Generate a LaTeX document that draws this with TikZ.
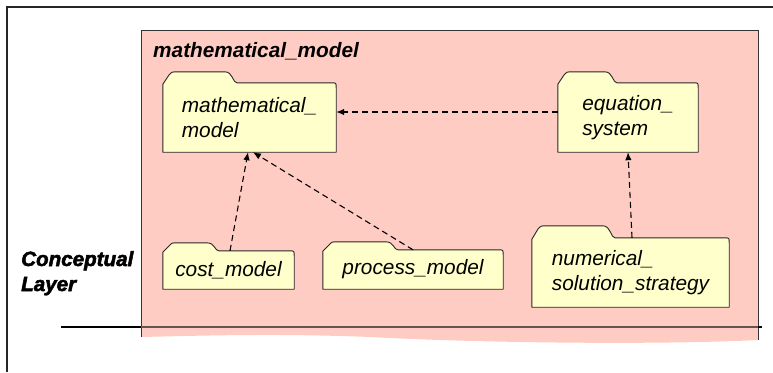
\documentclass[tikz,border=0pt]{standalone}
\usepackage{fontspec}
\setmainfont{Liberation Sans}
\newfontfamily\heavyfont{Liberation Sans Bold Italic}[FakeBold=2.5]
\usetikzlibrary{arrows.meta,backgrounds}
\definecolor{pkgpink}{RGB}{255,204,196}
\definecolor{folderyellow}{RGB}{255,255,204}
\definecolor{sepgray}{RGB}{100,85,85}
\newcommand{\drawfolder}[3]{% node, tab width, tab height
  \draw[folderline] (#1.south west) -- ([yshift=-1.5pt]#1.north west)
    -- ([xshift=6pt,yshift={#3-3.5pt}]#1.north west)
    .. controls ([xshift=9pt,yshift=#3]#1.north west) .. ([xshift=15pt,yshift=#3]#1.north west)
    -- ([xshift={#2-12pt},yshift=#3]#1.north west)
    .. controls ([xshift={#2-4pt},yshift=#3]#1.north west) and ([xshift={#2-4pt},yshift=0pt]#1.north west) .. ([xshift=#2,yshift=0pt]#1.north west)
    -- ([xshift=-5pt]#1.north east)
    .. controls (#1.north east) .. ([yshift=-5pt]#1.north east)
    -- (#1.south east) -- cycle;}
\begin{document}
\begin{tikzpicture}[x=1pt,y=1pt,
  txt/.style={font=\fontsize{20.8}{25}\selectfont\itshape},
  folderbody/.style={txt,inner sep=0pt,align=left,minimum height=#1},
  folderline/.style={draw=black!85,line width=0.9pt,fill=folderyellow,line join=round},
  dep/.style={dashed,dash pattern=on 6pt off 4pt,line width=1.1pt,-{Latex[length=8pt,width=6.5pt]}},
  frame/.style={line width=1.2pt,draw=black!85}]
\useasboundingbox (0,0) rectangle (773,-372);
% text nodes
\node[folderbody=69pt,minimum width=173pt] (mm) at (249.5,-117.5) {mathematical\_\\model};
\node[folderbody=69pt,minimum width=140pt] (eq) at (628,-117.5) {equation\_\\system};
\node[folderbody=38pt,minimum width=131pt] (cost) at (228.5,-270) {cost\_model};
\node[folderbody=39pt,minimum width=180pt] (proc) at (413,-269.5) {process\_model};
\node[folderbody=69pt,minimum width=197pt] (num) at (630.5,-272.5) {numerical\_\\solution\_strategy};
\node[txt,font=\fontsize{20.8}{25}\selectfont\bfseries\itshape,anchor=base west,inner sep=0pt] (title) at (153,-57) {mathematical\_model};
\node[anchor=base west,inner sep=0pt,align=left,font=\heavyfont\fontsize{20.6}{25}\selectfont] (layer) at (21,-291) {Conceptual\\Layer};
\begin{scope}[on background layer]
  \fill[pkgpink] (141,-30) -- (758,-30) -- (758,-340)
    .. controls (660,-345) and (480,-343) .. (370,-337)
    .. controls (270,-333) and (190,-336) .. (141,-337) -- cycle;
  \draw[line width=1pt,draw=black!80] (141,-337) -- (141,-30) -- (758,-30) -- (758,-340);
  \drawfolder{mm}{74pt}{11pt}
  \drawfolder{eq}{59pt}{11pt}
  \drawfolder{cost}{56pt}{8pt}
  \drawfolder{proc}{75pt}{8pt}
  \drawfolder{num}{83pt}{12pt}
\end{scope}
% frame and separator
\coordinate (fb) at (7,-372);
\coordinate (fc) at (7,-7);
\coordinate (fr) at (773,-7);
\draw[frame] (fb) -- (fc) -- (fr);
\coordinate (s0) at (61,-327);
\coordinate (s1) at (141,-327);
\coordinate (s2) at (758,-327);
\coordinate (s3) at (762,-327);
\draw[line width=1.3pt,black] (s0) -- (s1);
\draw[line width=1.3pt,sepgray] (s1) -- (s2);
\draw[line width=1.3pt,black] (s2) -- (s3);
% dependencies
\draw[dep] ([yshift=5.5pt]eq.west) -- ([yshift=5.5pt]mm.east);
\draw[dep] ([xshift=1.5pt]cost.north) -- ([xshift=-1.5pt]mm.south);
\draw[dep] (proc.north) -- ([xshift=3.5pt]mm.south);
\draw[dep] ([xshift=1.5pt]num.north) -- (eq.south);
\end{tikzpicture}
\end{document}
